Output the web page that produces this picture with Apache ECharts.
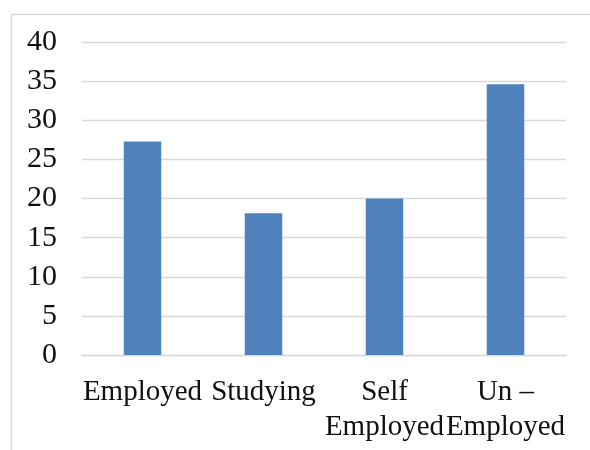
<!DOCTYPE html>
<html>
<head>
<meta charset="utf-8">
<script src="https://cdn.jsdelivr.net/npm/echarts@6/dist/echarts.min.js"></script>
<style>html,body{margin:0;padding:0;background:#fff}#c{width:590px;height:450px}</style>
</head>
<body>
<div id="c"></div>
<script>
const categories = ["Employed", "Studying", "Self\nEmployed", "Un \u2013\nEmployed"];
const values = [27.3, 18.1, 20.0, 34.6];
const yTicks = [0, 5, 10, 15, 20, 25, 30, 35, 40];

const chart = echarts.init(document.getElementById('c'));
const font = '"Liberation Serif", "Times New Roman", serif';
chart.setOption({
  animation: false,
  graphic: [{
    type: 'rect', left: 9, top: 12,
    shape: { width: 700, height: 600 },
    style: { fill: 'none', stroke: '#d9d9d9', lineWidth: 1.5 },
    silent: true, z: -1
  }],
  grid: { left: 82, right: 24, top: 42, bottom: 95 },
  xAxis: {
    type: 'category',
    data: categories,
    axisLine: { lineStyle: { color: '#d9d9d9', width: 1.3 } },
    axisTick: { show: false },
    axisLabel: {
      interval: 0, color: '#111', fontFamily: font, fontSize: 29,
      lineHeight: 35, margin: 20
    }
  },
  yAxis: {
    type: 'value', min: yTicks[0], max: yTicks[yTicks.length - 1], interval: 5,
    axisLine: { show: false },
    axisTick: { show: false },
    splitLine: { lineStyle: { color: '#d9d9d9', width: 1.3 } },
    axisLabel: { color: '#111', fontFamily: font, fontSize: 30, margin: 25 }
  },
  series: [{
    type: 'bar',
    data: values,
    barWidth: '31%',
    itemStyle: { color: '#4f81bd' }
  }]
});
</script>
</body>
</html>
